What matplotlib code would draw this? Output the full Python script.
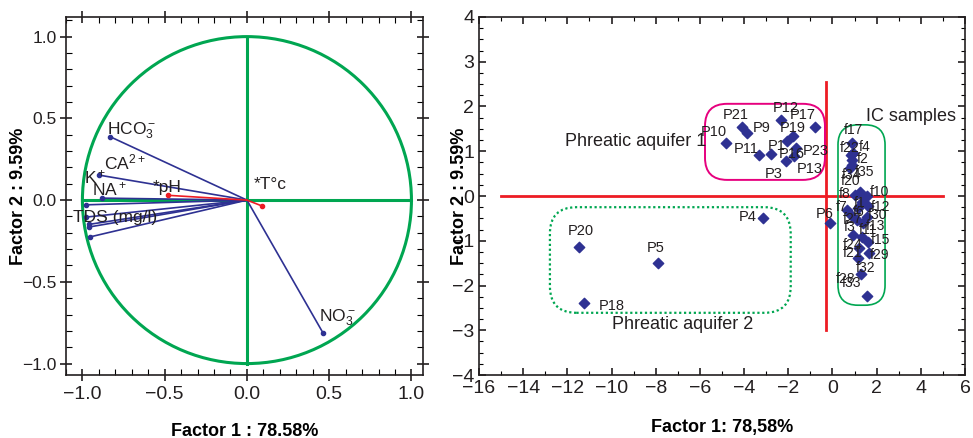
import matplotlib
matplotlib.use("Agg")
import matplotlib.pyplot as plt
from matplotlib import font_manager
from matplotlib.patches import Circle, FancyBboxPatch
from matplotlib.ticker import MultipleLocator

# Police étroite si dispo
names = {f.name for f in font_manager.fontManager.ttflist}
narrow = 'Liberation Sans Narrow' if 'Liberation Sans Narrow' in names else 'Liberation Sans'
plt.rcParams['font.family'] = [narrow, 'DejaVu Sans']
plt.rcParams['mathtext.fontset'] = 'custom'
plt.rcParams['mathtext.rm'] = narrow
plt.rcParams['mathtext.it'] = narrow

# --- cercle des corrélations ---
var_names = ['HCO3', 'K', 'NA', 'TDS', 'V5', 'V6', 'V7', 'V8', 'NO3']
var_f1 = [-0.83, -0.90, -0.88, -0.98, -0.977, -0.962, -0.962, -0.953, 0.461]
var_f2 = [0.387, 0.153, 0.012, -0.029, -0.104, -0.149, -0.165, -0.225, -0.81]

sup_names = ['*pH', '*T°c']
sup_f1 = [-0.477, 0.094]
sup_f2 = [0.029, -0.037]

# --- nuage des individus ---
p_names = ['P10', 'P21', 'P9', 'P12', 'P17', 'P16', 'P19', 'P11', 'P1', 'P23', 'P13', 'P3',
           'P20', 'P5', 'P18', 'P4', 'P6']
p_f1 = [-4.83, -4.08, -3.88, -2.33, -0.79, -2.07, -1.77, -3.32, -2.80, -1.65, -1.73, -2.10,
        -11.47, -7.91, -11.23, -3.13, -0.11]
p_f2 = [1.19, 1.54, 1.40, 1.70, 1.54, 1.23, 1.33, 0.92, 0.94, 1.08, 0.89, 0.78,
        -1.13, -1.49, -2.40, -0.50, -0.61]

f_names = ['f17', 'f4', 'f22', 'f2', 'f35', 'f34', 'f20', 'f10', 'f8', 'f1', 'f12', 'f7',
           'f6', 'f30', 'f27', 'f13', 'f3', 'f15', 'f24', 'f11', 'f21', 'f29', 'f32', 'f28', 'f33']
f_f1 = [0.87, 0.95, 0.84, 0.90, 0.87, 0.80, 1.25, 1.55, 1.02, 1.32, 1.62, 0.67,
        1.17, 1.55, 0.83, 1.40, 1.13, 1.62, 0.95, 1.32, 1.22, 1.67, 1.17, 1.28, 1.55]
f_f2 = [1.19, 0.95, 0.92, 0.80, 0.69, 0.62, 0.10, 0.00, 0.02, -0.13, -0.22, -0.31,
        -0.27, -0.46, -0.42, -0.61, -0.54, -1.02, -0.87, -0.91, -1.17, -1.28, -1.38, -1.75, -2.23]

GREEN = '#00A651'
NAVY = '#2E3192'
RED = '#ED1C24'
PINK = '#E6007E'
INK = '#231F20'

fig = plt.figure(figsize=(9.73, 4.38), dpi=100)
ax1 = fig.add_axes([0.0678, 0.1438, 0.3669, 0.8174])
ax2 = fig.add_axes([0.4923, 0.1438, 0.4995, 0.8174])

# ---------- panneau gauche ----------
ax1.add_patch(Circle((0, 0), 1, fill=False, ec=GREEN, lw=2.2, zorder=1))
ax1.plot([0, 0], [-1, 1], color=GREEN, lw=2.2, zorder=1)
ax1.plot([-1, 1], [0, 0], color=GREEN, lw=2.2, zorder=1)
for x, y in zip(var_f1, var_f2):
    ax1.plot([0, x], [0, y], color=NAVY, lw=1.2, zorder=3)
    ax1.plot(x, y, 'o', color=NAVY, ms=3, zorder=4)
for x, y in zip(sup_f1, sup_f2):
    ax1.plot([0, x], [0, y], color=RED, lw=1.2, zorder=3)
    ax1.plot(x, y, 'o', color=RED, ms=3, zorder=4)

lab = dict(fontsize=12.5, color=INK, zorder=5)
ax1.text(-0.85, 0.40, r'HCO$_3^-$', **lab)
ax1.text(-0.99, 0.10, r'K$^+$', **lab)
ax1.text(-0.87, 0.19, r'CA$^{2+}$', **lab)
ax1.text(-0.94, 0.03, r'NA$^+$', **lab)
ax1.text(-1.06, -0.135, 'TDS (mg/l)', **lab)
ax1.text(-0.57, 0.05, '*pH', **lab)
ax1.text(0.04, 0.07, '*T°c', **lab)
ax1.text(0.44, -0.74, r'NO$_3^-$', **lab)

ax1.set_xlim(-1.1, 1.07)
ax1.set_ylim(-1.07, 1.12)
ax1.xaxis.set_major_locator(MultipleLocator(0.5))
ax1.xaxis.set_minor_locator(MultipleLocator(0.1))
ax1.yaxis.set_major_locator(MultipleLocator(0.5))
ax1.yaxis.set_minor_locator(MultipleLocator(0.1))
ax1.tick_params(which='major', direction='inout', length=9, width=1.2,
                top=True, right=True, labelsize=14, colors=INK)
ax1.tick_params(axis='y', which='major', labelsize=12.5, pad=2)
ax1.tick_params(which='minor', direction='in', length=4, width=0.8, top=True, right=True)
ax1.set_xlabel('Factor 1 : 78.58%', fontsize=13, fontweight='bold', labelpad=14)
ax1.set_ylabel('Factor 2 : 9.59%', fontsize=13, fontweight='bold')
ax1.yaxis.set_label_coords(-0.11, 0.5)

# ---------- panneau droit ----------
ax2.plot([-15, 5], [0, 0], color=RED, lw=2, zorder=1)
ax2.plot([-0.3, -0.3], [-3, 2.55], color=RED, lw=2, zorder=1)

# enveloppes des groupes (x0, y0, x1, y1)
box1 = [-5.77, 0.36, -0.34, 2.06]
box2 = [-12.79, -2.61, -1.89, -0.25]
box3 = [0.25, -2.44, 2.38, 1.59]
asp = (ax2.bbox.width / 22.0) / (ax2.bbox.height / 8.0)


def rbox(b, r, **kw):
    p = FancyBboxPatch((b[0], b[1]), b[2] - b[0], b[3] - b[1],
                       boxstyle='round,pad=0,rounding_size=%g' % r,
                       mutation_aspect=asp, fill=False, zorder=2, **kw)
    ax2.add_patch(p)


rbox(box1, 1.0, ec=PINK, lw=1.4)
rbox(box2, 1.2, ec=GREEN, lw=1.6, ls=(0, (1, 1.2)))
rbox(box3, 0.9, ec=GREEN, lw=1.2)

ax2.scatter(p_f1, p_f2, marker='D', s=28, color=NAVY, zorder=4)
ax2.scatter(f_f1, f_f2, marker='D', s=28, color=NAVY, zorder=4)

plab = dict(fontsize=10.5, color=INK, zorder=5)
p_off = {'P10': (-18, 5), 'P21': (-14, 6), 'P9': (4, 1), 'P12': (-6, 6), 'P17': (-18, 6),
         'P16': (-6, -12), 'P19': (-10, 3), 'P11': (-18, 1), 'P1': (-2, 3), 'P23': (5, -5),
         'P13': (2, -12), 'P3': (-15, -12), 'P20': (-8, 8), 'P5': (-8, 8), 'P18': (10, -5),
         'P4': (-18, -2), 'P6': (-10, 4)}
for n, x, y in zip(p_names, p_f1, p_f2):
    dx, dy = p_off[n]
    ax2.annotate(n, (x, y), xytext=(dx, dy), textcoords='offset points', **plab)
f_off = {'f17': (-6, 6), 'f4': (4, 2), 'f22': (-8, 2), 'f2': (3, -2), 'f35': (2, -8),
         'f34': (-6, -8), 'f20': (-14, 5), 'f10': (2, 0), 'f8': (-12, -2), 'f1': (-6, -4),
         'f12': (2, -4), 'f7': (-8, -1), 'f6': (-4, -6), 'f30': (1, -2), 'f27': (-6, -6),
         'f13': (2, -5), 'f3': (-10, -8), 'f15': (2, -2), 'f24': (-8, -10), 'f11': (-2, 2),
         'f21': (-12, -6), 'f29': (0, -4), 'f32': (-2, -10), 'f28': (-18, -6), 'f33': (-18, 6)}
for n, x, y in zip(f_names, f_f1, f_f2):
    dx, dy = f_off[n]
    ax2.annotate(n, (x, y), xytext=(dx, dy), textcoords='offset points', fontsize=10,
                 color=INK, zorder=5)

ax2.text(-12.1, 1.21, 'Phreatic aquifer 1', fontsize=13, va='center', color=INK)
ax2.text(-9.98, -2.88, 'Phreatic aquifer 2', fontsize=13, va='center', color=INK)
ax2.text(1.5, 1.77, 'IC samples', fontsize=13, va='center', color=INK)

ax2.set_xlim(-16, 6)
ax2.set_ylim(-4, 4)
ax2.xaxis.set_major_locator(MultipleLocator(2))
ax2.xaxis.set_minor_locator(MultipleLocator(1))
ax2.yaxis.set_major_locator(MultipleLocator(1))
ax2.yaxis.set_minor_locator(MultipleLocator(0.25))
ax2.tick_params(which='major', direction='in', length=5, width=1.2,
                top=True, right=True, labelsize=14, colors=INK)
ax2.tick_params(which='minor', direction='in', length=3, width=0.8, top=True, right=True)
ax2.set_xlabel('Factor 1: 78,58%', fontsize=13, fontweight='bold', labelpad=16)
ax2.set_ylabel('Factor 2 : 9.59%', fontsize=13, fontweight='bold', labelpad=-12)

for ax in (ax1, ax2):
    for s in ax.spines.values():
        s.set_color(INK)
        s.set_linewidth(1.2)

fig.savefig('out.png', dpi=100)
